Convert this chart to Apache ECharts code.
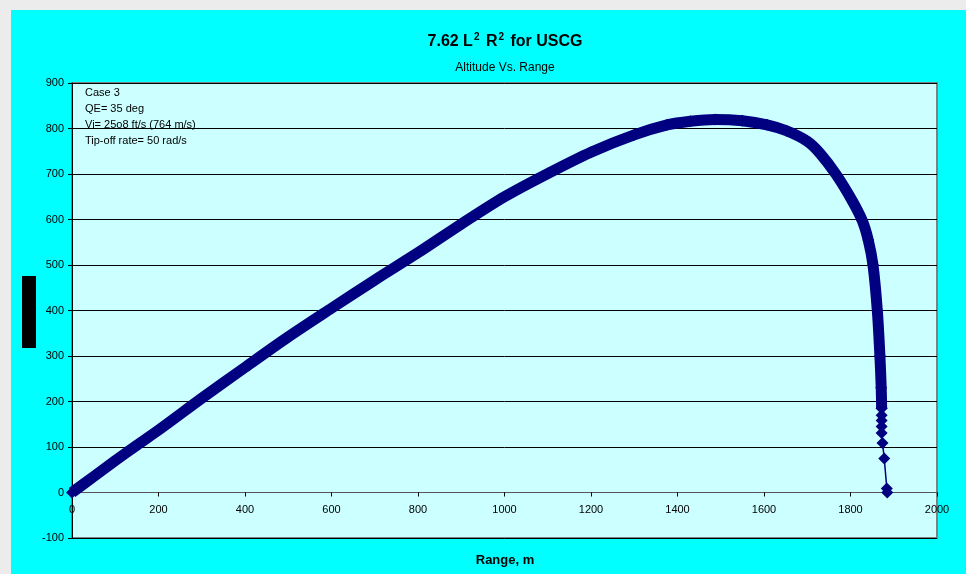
<!DOCTYPE html>
<html>
<head>
<meta charset="utf-8">
<script src="https://cdn.jsdelivr.net/npm/echarts@6/dist/echarts.min.js"></script>
<style>html,body{margin:0;padding:0;background:#00ffff;}#c{width:966px;height:574px;}</style>
</head>
<body>
<div id="c"></div>
<script>
// Trajectory (range m, altitude m)
const rangeM    = [0, 50, 100, 150, 200, 300, 400, 500, 600, 700, 800, 900, 1000, 1100, 1200, 1300, 1376, 1430, 1487, 1550, 1607, 1652, 1700, 1730, 1766, 1803, 1827, 1841, 1852, 1862, 1868, 1871, 1872];
const altitudeM = [0, 35, 70, 104, 137, 207, 275, 342, 405, 467, 527, 590, 650, 701, 748, 786, 808, 816, 820, 817, 808, 795, 772, 745, 700, 643, 598, 555, 500, 400, 300, 230, 185];
// Tail where individual markers are visible
const tailRange = [1872, 1872, 1872, 1872, 1872, 1874, 1878, 1884, 1885];
const tailAlt   = [185, 170, 158, 145, 131, 109, 75, 9, 0];
const xTicks = [0, 200, 400, 600, 800, 1000, 1200, 1400, 1600, 1800, 2000];
const yTicks = [-100, 0, 100, 200, 300, 400, 500, 600, 700, 800, 900];
const noteLines = ['Case 3', 'QE= 35 deg', 'Vi= 25o8 ft/s (764 m/s)', 'Tip-off rate= 50 rad/s'];

const chart = echarts.init(document.getElementById('c'), null, {renderer: 'canvas'});
const mainData = rangeM.map((x, i) => [x, altitudeM[i]]);
const tailData = tailRange.map((x, i) => [x, tailAlt[i]]);
const navy = '#000080';
const font = 'Liberation Sans, Arial, sans-serif';
const plotTop = 83, plotBottom = 538;
const zeroOffset = -(plotBottom - plotTop) * (0 - yTicks[0]) / (yTicks[yTicks.length - 1] - yTicks[0]);

chart.setOption({
  backgroundColor: '#00ffff',
  animation: false,
  grid: {left: 72, right: 29, top: plotTop, bottom: 574 - plotBottom, show: true, backgroundColor: '#ccffff', borderColor: '#808080', borderWidth: 2},
  xAxis: {
    type: 'value', min: xTicks[0], max: xTicks[xTicks.length - 1], interval: 200,
    offset: zeroOffset,
    axisLine: {onZero: false, lineStyle: {color: '#555', width: 1}},
    axisTick: {show: true, inside: false, length: 4, lineStyle: {color: '#000'}},
    axisLabel: {color: '#000', fontSize: 11, fontFamily: font, margin: 12, formatter: v => String(v)},
    splitLine: {show: false}
  },
  yAxis: {
    type: 'value', min: yTicks[0], max: yTicks[yTicks.length - 1], interval: 100,
    axisLine: {show: true, onZero: false, lineStyle: {color: '#000', width: 1}},
    axisTick: {show: true, inside: false, length: 4, lineStyle: {color: '#000'}},
    axisLabel: {color: '#000', fontSize: 11, fontFamily: font, margin: 8, formatter: v => String(v)},
    splitLine: {show: true, lineStyle: {color: '#000', width: 1}}
  },
  graphic: [
    {type: 'rect', shape: {x: 0, y: 0, width: 11, height: 574}, style: {fill: '#ececec'}, silent: true},
    {type: 'rect', shape: {x: 0, y: 0, width: 966, height: 10}, style: {fill: '#ececec'}, silent: true},
    {type: 'rect', shape: {x: 22, y: 276, width: 14, height: 72}, style: {fill: '#000'}, silent: true},
    {type: 'text', x: 505, y: 42, style: {
      text: '{a|7.62 L}{s|2}{a| R}{s|2}{a| for USCG}', align: 'center', verticalAlign: 'middle',
      rich: {
        a: {fontSize: 16, fontWeight: 'bold', fontFamily: font, fill: '#000'},
        s: {fontSize: 10, fontWeight: 'bold', fontFamily: font, fill: '#000', padding: [0, 2, 9, 1]}
      }
    }},
    {type: 'text', x: 505, y: 68, style: {text: 'Altitude Vs. Range', fontSize: 12, fontFamily: font, fill: '#000', align: 'center', verticalAlign: 'middle'}},
    {type: 'text', x: 505, y: 560, style: {text: 'Range, m', fontSize: 13, fontWeight: 'bold', fontFamily: font, fill: '#000', align: 'center', verticalAlign: 'middle'}},
    {type: 'text', x: 85, y: 85, style: {text: noteLines.join('\n'), fontSize: 11, lineHeight: 16, fontFamily: font, fill: '#000', align: 'left', verticalAlign: 'top'}}
  ],
  series: [
    {type: 'line', data: mainData, symbol: 'diamond', symbolSize: 12, showAllSymbol: true, smooth: 0.3,
     itemStyle: {color: navy}, lineStyle: {color: navy, width: 11, join: 'round'}, z: 3},
    {type: 'line', data: tailData, symbol: 'diamond', symbolSize: 12, showAllSymbol: true,
     itemStyle: {color: navy}, lineStyle: {color: navy, width: 1.5}, z: 4}
  ]
});
</script>
</body>
</html>
